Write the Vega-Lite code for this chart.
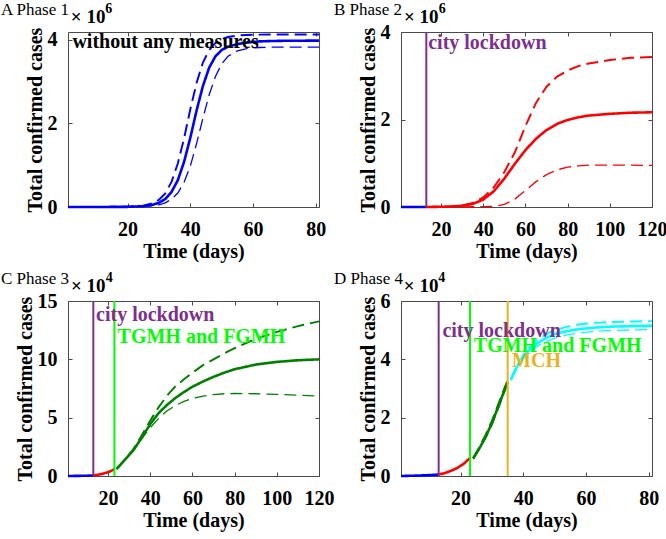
{
  "$schema": "https://vega.github.io/schema/vega-lite/v6.json",
  "padding": {"left": 0, "top": 0, "right": 0, "bottom": 5},
  "datasets": {
    "A_lines": [
      {"day":1,"cases":0,"series":"blue","band":"mean"},{"day":10,"cases":0.0002,"series":"blue","band":"mean"},{"day":20,"cases":0.004,"series":"blue","band":"mean"},{"day":25,"cases":0.02,"series":"blue","band":"mean"},{"day":28,"cases":0.054,"series":"blue","band":"mean"},{"day":30,"cases":0.1,"series":"blue","band":"mean"},{"day":32,"cases":0.19,"series":"blue","band":"mean"},{"day":34,"cases":0.36,"series":"blue","band":"mean"},{"day":36,"cases":0.64,"series":"blue","band":"mean"},{"day":38,"cases":1.08,"series":"blue","band":"mean"},{"day":40,"cases":1.66,"series":"blue","band":"mean"},{"day":42,"cases":2.31,"series":"blue","band":"mean"},{"day":44,"cases":2.89,"series":"blue","band":"mean"},{"day":46,"cases":3.33,"series":"blue","band":"mean"},{"day":48,"cases":3.6,"series":"blue","band":"mean"},{"day":50,"cases":3.75,"series":"blue","band":"mean"},{"day":52,"cases":3.83,"series":"blue","band":"mean"},{"day":55,"cases":3.89,"series":"blue","band":"mean"},{"day":58,"cases":3.93,"series":"blue","band":"mean"},{"day":62,"cases":3.955,"series":"blue","band":"mean"},{"day":66,"cases":3.965,"series":"blue","band":"mean"},{"day":70,"cases":3.97,"series":"blue","band":"mean"},{"day":75,"cases":3.972,"series":"blue","band":"mean"},{"day":81,"cases":3.975,"series":"blue","band":"mean"},
      {"day":1,"cases":0,"series":"blue","band":"upper"},{"day":10,"cases":0.0004,"series":"blue","band":"upper"},{"day":20,"cases":0.006,"series":"blue","band":"upper"},{"day":25,"cases":0.033,"series":"blue","band":"upper"},{"day":28,"cases":0.089,"series":"blue","band":"upper"},{"day":30,"cases":0.172,"series":"blue","band":"upper"},{"day":32,"cases":0.327,"series":"blue","band":"upper"},{"day":34,"cases":0.6,"series":"blue","band":"upper"},{"day":36,"cases":1.04,"series":"blue","band":"upper"},{"day":38,"cases":1.64,"series":"blue","band":"upper"},{"day":40,"cases":2.34,"series":"blue","band":"upper"},{"day":42,"cases":2.97,"series":"blue","band":"upper"},{"day":44,"cases":3.45,"series":"blue","band":"upper"},{"day":46,"cases":3.75,"series":"blue","band":"upper"},{"day":48,"cases":3.92,"series":"blue","band":"upper"},{"day":50,"cases":4.01,"series":"blue","band":"upper"},{"day":52,"cases":4.06,"series":"blue","band":"upper"},{"day":55,"cases":4.095,"series":"blue","band":"upper"},{"day":58,"cases":4.11,"series":"blue","band":"upper"},{"day":62,"cases":4.117,"series":"blue","band":"upper"},{"day":66,"cases":4.12,"series":"blue","band":"upper"},{"day":70,"cases":4.12,"series":"blue","band":"upper"},{"day":75,"cases":4.12,"series":"blue","band":"upper"},{"day":81,"cases":4.12,"series":"blue","band":"upper"},
      {"day":1,"cases":0,"series":"blue","band":"lower"},{"day":10,"cases":0.0001,"series":"blue","band":"lower"},{"day":20,"cases":0.002,"series":"blue","band":"lower"},{"day":25,"cases":0.011,"series":"blue","band":"lower"},{"day":28,"cases":0.028,"series":"blue","band":"lower"},{"day":30,"cases":0.053,"series":"blue","band":"lower"},{"day":32,"cases":0.1,"series":"blue","band":"lower"},{"day":34,"cases":0.185,"series":"blue","band":"lower"},{"day":36,"cases":0.335,"series":"blue","band":"lower"},{"day":38,"cases":0.59,"series":"blue","band":"lower"},{"day":40,"cases":0.98,"series":"blue","band":"lower"},{"day":42,"cases":1.52,"series":"blue","band":"lower"},{"day":44,"cases":2.12,"series":"blue","band":"lower"},{"day":46,"cases":2.68,"series":"blue","band":"lower"},{"day":48,"cases":3.12,"series":"blue","band":"lower"},{"day":50,"cases":3.42,"series":"blue","band":"lower"},{"day":52,"cases":3.6,"series":"blue","band":"lower"},{"day":55,"cases":3.73,"series":"blue","band":"lower"},{"day":58,"cases":3.785,"series":"blue","band":"lower"},{"day":62,"cases":3.81,"series":"blue","band":"lower"},{"day":66,"cases":3.818,"series":"blue","band":"lower"},{"day":70,"cases":3.82,"series":"blue","band":"lower"},{"day":75,"cases":3.82,"series":"blue","band":"lower"},{"day":81,"cases":3.82,"series":"blue","band":"lower"}
    ],
    "A_notes": [
      {"day":2.4,"cases":3.8,"label":"without any measures","series":"black"}
    ],
    "A_exp": [{"day":1.9,"cases":4.395,"label":"× 10"}],
    "A_pow": [{"day":12.9,"cases":4.63,"label":"6"}],
    "B_lines": [
      {"day":1,"cases":0,"series":"blue","band":"mean"},{"day":13,"cases":0,"series":"blue","band":"mean"},
      {"day":13,"cases":0,"series":"red","band":"mean"},{"day":20,"cases":0.005,"series":"red","band":"mean"},{"day":25,"cases":0.012,"series":"red","band":"mean"},{"day":30,"cases":0.03,"series":"red","band":"mean"},{"day":35,"cases":0.07,"series":"red","band":"mean"},{"day":40,"cases":0.17,"series":"red","band":"mean"},{"day":45,"cases":0.36,"series":"red","band":"mean"},{"day":50,"cases":0.65,"series":"red","band":"mean"},{"day":55,"cases":0.99,"series":"red","band":"mean"},{"day":60,"cases":1.3,"series":"red","band":"mean"},{"day":65,"cases":1.56,"series":"red","band":"mean"},{"day":70,"cases":1.76,"series":"red","band":"mean"},{"day":75,"cases":1.9,"series":"red","band":"mean"},{"day":80,"cases":1.99,"series":"red","band":"mean"},{"day":85,"cases":2.05,"series":"red","band":"mean"},{"day":90,"cases":2.09,"series":"red","band":"mean"},{"day":100,"cases":2.13,"series":"red","band":"mean"},{"day":110,"cases":2.155,"series":"red","band":"mean"},{"day":120,"cases":2.165,"series":"red","band":"mean"},
      {"day":13,"cases":0,"series":"red","band":"upper"},{"day":20,"cases":0.005,"series":"red","band":"upper"},{"day":25,"cases":0.014,"series":"red","band":"upper"},{"day":30,"cases":0.035,"series":"red","band":"upper"},{"day":35,"cases":0.09,"series":"red","band":"upper"},{"day":40,"cases":0.22,"series":"red","band":"upper"},{"day":45,"cases":0.45,"series":"red","band":"upper"},{"day":50,"cases":0.8,"series":"red","band":"upper"},{"day":55,"cases":1.25,"series":"red","band":"upper"},{"day":60,"cases":1.85,"series":"red","band":"upper"},{"day":65,"cases":2.38,"series":"red","band":"upper"},{"day":70,"cases":2.75,"series":"red","band":"upper"},{"day":75,"cases":2.98,"series":"red","band":"upper"},{"day":80,"cases":3.12,"series":"red","band":"upper"},{"day":85,"cases":3.22,"series":"red","band":"upper"},{"day":90,"cases":3.28,"series":"red","band":"upper"},{"day":100,"cases":3.36,"series":"red","band":"upper"},{"day":110,"cases":3.41,"series":"red","band":"upper"},{"day":120,"cases":3.43,"series":"red","band":"upper"},
      {"day":13,"cases":0,"series":"red","band":"lower"},{"day":20,"cases":0.001,"series":"red","band":"lower"},{"day":25,"cases":0.002,"series":"red","band":"lower"},{"day":30,"cases":0.004,"series":"red","band":"lower"},{"day":35,"cases":0.006,"series":"red","band":"lower"},{"day":40,"cases":0.008,"series":"red","band":"lower"},{"day":45,"cases":0.015,"series":"red","band":"lower"},{"day":50,"cases":0.06,"series":"red","band":"lower"},{"day":55,"cases":0.18,"series":"red","band":"lower"},{"day":60,"cases":0.38,"series":"red","band":"lower"},{"day":65,"cases":0.58,"series":"red","band":"lower"},{"day":70,"cases":0.74,"series":"red","band":"lower"},{"day":75,"cases":0.85,"series":"red","band":"lower"},{"day":80,"cases":0.91,"series":"red","band":"lower"},{"day":85,"cases":0.94,"series":"red","band":"lower"},{"day":90,"cases":0.955,"series":"red","band":"lower"},{"day":100,"cases":0.96,"series":"red","band":"lower"},{"day":110,"cases":0.955,"series":"red","band":"lower"},{"day":120,"cases":0.95,"series":"red","band":"lower"}
    ],
    "B_events": [{"day":13,"series":"lockdown"}],
    "B_notes": [{"day":13.9,"cases":3.61,"label":"city lockdown","series":"lockdown"}],
    "B_exp": [{"day":2.4,"cases":4.206,"label":"× 10"}],
    "B_pow": [{"day":18.9,"cases":4.43,"label":"6"}],
    "C_lines": [
      {"day":1,"cases":0,"series":"blue","band":"mean"},{"day":5,"cases":0.01,"series":"blue","band":"mean"},{"day":9,"cases":0.02,"series":"blue","band":"mean"},{"day":13,"cases":0.05,"series":"blue","band":"mean"},
      {"day":13,"cases":0.05,"series":"red","band":"mean"},{"day":15,"cases":0.1,"series":"red","band":"mean"},{"day":17,"cases":0.17,"series":"red","band":"mean"},{"day":19,"cases":0.27,"series":"red","band":"mean"},{"day":21,"cases":0.4,"series":"red","band":"mean"},{"day":23,"cases":0.58,"series":"red","band":"mean"},
      {"day":24,"cases":0.6,"series":"green","band":"mean"},{"day":28,"cases":1.4,"series":"green","band":"mean"},{"day":32,"cases":2.2,"series":"green","band":"mean"},{"day":36,"cases":3.3,"series":"green","band":"mean"},{"day":40,"cases":4.45,"series":"green","band":"mean"},{"day":44,"cases":5.4,"series":"green","band":"mean"},{"day":48,"cases":6.1,"series":"green","band":"mean"},{"day":52,"cases":6.7,"series":"green","band":"mean"},{"day":56,"cases":7.2,"series":"green","band":"mean"},{"day":60,"cases":7.65,"series":"green","band":"mean"},{"day":65,"cases":8.1,"series":"green","band":"mean"},{"day":70,"cases":8.5,"series":"green","band":"mean"},{"day":75,"cases":8.85,"series":"green","band":"mean"},{"day":80,"cases":9.15,"series":"green","band":"mean"},{"day":90,"cases":9.55,"series":"green","band":"mean"},{"day":100,"cases":9.78,"series":"green","band":"mean"},{"day":110,"cases":9.92,"series":"green","band":"mean"},{"day":120,"cases":10.0,"series":"green","band":"mean"},
      {"day":24,"cases":0.6,"series":"green","band":"upper"},{"day":28,"cases":1.4,"series":"green","band":"upper"},{"day":32,"cases":2.3,"series":"green","band":"upper"},{"day":36,"cases":3.5,"series":"green","band":"upper"},{"day":40,"cases":4.75,"series":"green","band":"upper"},{"day":44,"cases":5.9,"series":"green","band":"upper"},{"day":48,"cases":6.9,"series":"green","band":"upper"},{"day":52,"cases":7.7,"series":"green","band":"upper"},{"day":56,"cases":8.3,"series":"green","band":"upper"},{"day":60,"cases":8.85,"series":"green","band":"upper"},{"day":65,"cases":9.5,"series":"green","band":"upper"},{"day":70,"cases":10.0,"series":"green","band":"upper"},{"day":75,"cases":10.5,"series":"green","band":"upper"},{"day":80,"cases":10.95,"series":"green","band":"upper"},{"day":90,"cases":11.75,"series":"green","band":"upper"},{"day":100,"cases":12.35,"series":"green","band":"upper"},{"day":110,"cases":12.85,"series":"green","band":"upper"},{"day":120,"cases":13.25,"series":"green","band":"upper"},
      {"day":24,"cases":0.6,"series":"green","band":"lower"},{"day":28,"cases":1.35,"series":"green","band":"lower"},{"day":32,"cases":2.2,"series":"green","band":"lower"},{"day":36,"cases":3.2,"series":"green","band":"lower"},{"day":40,"cases":4.15,"series":"green","band":"lower"},{"day":44,"cases":4.95,"series":"green","band":"lower"},{"day":48,"cases":5.6,"series":"green","band":"lower"},{"day":52,"cases":6.05,"series":"green","band":"lower"},{"day":56,"cases":6.4,"series":"green","band":"lower"},{"day":60,"cases":6.65,"series":"green","band":"lower"},{"day":65,"cases":6.85,"series":"green","band":"lower"},{"day":70,"cases":6.98,"series":"green","band":"lower"},{"day":75,"cases":7.05,"series":"green","band":"lower"},{"day":80,"cases":7.07,"series":"green","band":"lower"},{"day":90,"cases":7.05,"series":"green","band":"lower"},{"day":100,"cases":7.0,"series":"green","band":"lower"},{"day":110,"cases":6.92,"series":"green","band":"lower"},{"day":120,"cases":6.85,"series":"green","band":"lower"}
    ],
    "C_events": [{"day":13,"series":"lockdown"},{"day":23,"series":"TGMH"}],
    "C_notes": [{"day":14.3,"cases":13.3,"label":"city lockdown","series":"lockdown"},{"day":24.5,"cases":11.4,"label":"TGMH and FGMH","series":"TGMH"}],
    "C_exp": [{"day":2.4,"cases":15.77,"label":"× 10"}],
    "C_pow": [{"day":18.9,"cases":16.63,"label":"4"}],
    "D_lines": [
      {"day":1,"cases":0,"series":"blue","band":"mean"},{"day":5,"cases":0.01,"series":"blue","band":"mean"},{"day":9,"cases":0.025,"series":"blue","band":"mean"},{"day":13,"cases":0.05,"series":"blue","band":"mean"},
      {"day":13,"cases":0.05,"series":"red","band":"mean"},{"day":15,"cases":0.1,"series":"red","band":"mean"},{"day":17,"cases":0.18,"series":"red","band":"mean"},{"day":19,"cases":0.28,"series":"red","band":"mean"},{"day":21,"cases":0.42,"series":"red","band":"mean"},{"day":23,"cases":0.62,"series":"red","band":"mean"},
      {"day":24,"cases":0.6,"series":"green","band":"mean"},{"day":26,"cases":0.95,"series":"green","band":"mean"},{"day":28,"cases":1.35,"series":"green","band":"mean"},{"day":30,"cases":1.82,"series":"green","band":"mean"},{"day":32,"cases":2.38,"series":"green","band":"mean"},{"day":34,"cases":2.95,"series":"green","band":"mean"},{"day":35,"cases":3.22,"series":"green","band":"mean"},
      {"day":24,"cases":0.62,"series":"green","band":"upper"},{"day":26,"cases":0.99,"series":"green","band":"upper"},{"day":28,"cases":1.42,"series":"green","band":"upper"},{"day":30,"cases":1.9,"series":"green","band":"upper"},{"day":32,"cases":2.46,"series":"green","band":"upper"},{"day":34,"cases":3.02,"series":"green","band":"upper"},{"day":35,"cases":3.28,"series":"green","band":"upper"},
      {"day":24,"cases":0.58,"series":"green","band":"lower"},{"day":26,"cases":0.92,"series":"green","band":"lower"},{"day":28,"cases":1.3,"series":"green","band":"lower"},{"day":30,"cases":1.75,"series":"green","band":"lower"},{"day":32,"cases":2.3,"series":"green","band":"lower"},{"day":34,"cases":2.88,"series":"green","band":"lower"},{"day":35,"cases":3.15,"series":"green","band":"lower"},
      {"day":36,"cases":3.3,"series":"cyan","band":"mean"},{"day":38,"cases":3.75,"series":"cyan","band":"mean"},{"day":40,"cases":4.08,"series":"cyan","band":"mean"},{"day":42,"cases":4.33,"series":"cyan","band":"mean"},{"day":44,"cases":4.52,"series":"cyan","band":"mean"},{"day":47,"cases":4.72,"series":"cyan","band":"mean"},{"day":50,"cases":4.86,"series":"cyan","band":"mean"},{"day":54,"cases":4.97,"series":"cyan","band":"mean"},{"day":58,"cases":5.04,"series":"cyan","band":"mean"},{"day":63,"cases":5.09,"series":"cyan","band":"mean"},{"day":68,"cases":5.12,"series":"cyan","band":"mean"},{"day":75,"cases":5.14,"series":"cyan","band":"mean"},{"day":81,"cases":5.15,"series":"cyan","band":"mean"},
      {"day":36,"cases":3.32,"series":"cyan","band":"upper"},{"day":38,"cases":3.8,"series":"cyan","band":"upper"},{"day":40,"cases":4.15,"series":"cyan","band":"upper"},{"day":42,"cases":4.42,"series":"cyan","band":"upper"},{"day":44,"cases":4.63,"series":"cyan","band":"upper"},{"day":47,"cases":4.85,"series":"cyan","band":"upper"},{"day":50,"cases":5.0,"series":"cyan","band":"upper"},{"day":54,"cases":5.12,"series":"cyan","band":"upper"},{"day":58,"cases":5.2,"series":"cyan","band":"upper"},{"day":63,"cases":5.25,"series":"cyan","band":"upper"},{"day":68,"cases":5.28,"series":"cyan","band":"upper"},{"day":75,"cases":5.3,"series":"cyan","band":"upper"},{"day":81,"cases":5.31,"series":"cyan","band":"upper"},
      {"day":36,"cases":3.28,"series":"cyan","band":"lower"},{"day":38,"cases":3.7,"series":"cyan","band":"lower"},{"day":40,"cases":4.0,"series":"cyan","band":"lower"},{"day":42,"cases":4.24,"series":"cyan","band":"lower"},{"day":44,"cases":4.42,"series":"cyan","band":"lower"},{"day":47,"cases":4.6,"series":"cyan","band":"lower"},{"day":50,"cases":4.73,"series":"cyan","band":"lower"},{"day":54,"cases":4.84,"series":"cyan","band":"lower"},{"day":58,"cases":4.91,"series":"cyan","band":"lower"},{"day":63,"cases":4.96,"series":"cyan","band":"lower"},{"day":68,"cases":4.99,"series":"cyan","band":"lower"},{"day":75,"cases":5.01,"series":"cyan","band":"lower"},{"day":81,"cases":5.02,"series":"cyan","band":"lower"}
    ],
    "D_events": [{"day":13,"series":"lockdown"},{"day":23,"series":"TGMH"},{"day":35,"series":"MCH"}],
    "D_notes": [{"day":14.2,"cases":4.77,"label":"city lockdown","series":"lockdown"},{"day":24.2,"cases":4.24,"label":"TGMH and FGMH","series":"TGMH"},{"day":36.4,"cases":3.74,"label":"MCH","series":"MCH"}],
    "D_exp": [{"day":1.9,"cases":6.31,"label":"× 10"}],
    "D_pow": [{"day":12.9,"cases":6.65,"label":"4"}]
  },
  "columns": 2,
  "bounds": "flush",
  "spacing": {"row": 94, "column": 82},
  "concat": [
    {
      "width": 251, "height": 175,
      "title": {"text": "A Phase 1"},
      "resolve": {"axis": {"x": "independent", "y": "independent"}},
      "layer": [
        {"data": {"name": "A_lines"}, "mark": {"type": "line"},
         "encoding": {
           "x": {"field": "day", "type": "quantitative", "scale": {"domain": [1, 81], "nice": false, "zero": false}, "axis": {"values": [20, 40, 60, 80], "title": "Time (days)", "labelPadding": 16}},
           "y": {"field": "cases", "type": "quantitative", "scale": {"domain": [0, 4.18], "nice": false}, "axis": {"values": [0, 2, 4], "title": "Total confirmed cases"}},
           "color": {"field": "series", "type": "nominal", "scale": {"domain": ["blue","red","green","cyan","lockdown","TGMH","MCH","black"], "range": ["#0000FF","#FF0000","#008000","#00FFFF","#7E2F8E","#00FF00","#EDB120","#000000"]}, "legend": null},
           "strokeDash": {"field": "band", "type": "nominal", "scale": {"domain": ["mean","upper","lower"], "range": [[1,0],[12,6],[12,6]]}, "legend": null},
           "strokeWidth": {"field": "band", "type": "nominal", "scale": {"domain": ["mean","upper","lower"], "range": [2.6,1.3,1.3]}, "legend": null}
         }},
        {"data": {"name": "A_notes"}, "mark": {"type": "text", "align": "left", "baseline": "alphabetic", "fontSize": 20, "fontWeight": "bold"},
         "encoding": {
           "x": {"field": "day", "type": "quantitative", "axis": null},
           "y": {"field": "cases", "type": "quantitative", "axis": null},
           "text": {"field": "label"},
           "color": {"field": "series", "type": "nominal", "legend": null}
         }},
        {"data": {"name": "A_pow"}, "mark": {"type": "text", "align": "left", "baseline": "alphabetic", "fontSize": 14, "fontWeight": "bold", "color": "#000"},
         "encoding": {
           "x": {"field": "day", "type": "quantitative", "axis": null},
           "y": {"field": "cases", "type": "quantitative", "axis": null},
           "text": {"field": "label"}
         }},
        {"data": {"name": "A_exp"}, "mark": {"type": "text", "align": "left", "baseline": "alphabetic", "fontSize": 19, "fontWeight": "bold", "color": "#000"},
         "encoding": {
           "x": {"field": "day", "type": "quantitative", "axis": {"orient": "top", "values": [20, 40, 60, 80], "labels": false, "title": null}},
           "y": {"field": "cases", "type": "quantitative", "axis": {"orient": "right", "values": [0, 2, 4], "labels": false, "title": null}},
           "text": {"field": "label"}
         }}
      ]
    },
    {
      "width": 251, "height": 175,
      "title": {"text": "B Phase 2"},
      "resolve": {"axis": {"x": "independent", "y": "independent"}},
      "layer": [
        {"data": {"name": "B_lines"}, "mark": {"type": "line"},
         "encoding": {
           "x": {"field": "day", "type": "quantitative", "scale": {"domain": [1, 120], "nice": false, "zero": false}, "axis": {"values": [20, 40, 60, 80, 100, 120], "title": "Time (days)", "labelPadding": 16}},
           "y": {"field": "cases", "type": "quantitative", "scale": {"domain": [0, 4], "nice": false}, "axis": {"values": [0, 2, 4], "title": "Total confirmed cases"}},
           "color": {"field": "series", "type": "nominal", "scale": {"domain": ["blue","red","green","cyan","lockdown","TGMH","MCH","black"], "range": ["#0000FF","#FF0000","#008000","#00FFFF","#7E2F8E","#00FF00","#EDB120","#000000"]}, "legend": null},
           "strokeDash": {"field": "band", "type": "nominal", "scale": {"domain": ["mean","upper","lower"], "range": [[1,0],[12,6],[12,6]]}, "legend": null},
           "strokeWidth": {"field": "band", "type": "nominal", "scale": {"domain": ["mean","upper","lower"], "range": [2.6,1.3,1.3]}, "legend": null}
         }},
        {"data": {"name": "B_events"}, "mark": {"type": "rule", "strokeWidth": 2},
         "encoding": {
           "x": {"field": "day", "type": "quantitative", "axis": null},
           "color": {"field": "series", "type": "nominal", "legend": null}
         }},
        {"data": {"name": "B_notes"}, "mark": {"type": "text", "align": "left", "baseline": "alphabetic", "fontSize": 20, "fontWeight": "bold"},
         "encoding": {
           "x": {"field": "day", "type": "quantitative", "axis": null},
           "y": {"field": "cases", "type": "quantitative", "axis": null},
           "text": {"field": "label"},
           "color": {"field": "series", "type": "nominal", "legend": null}
         }},
        {"data": {"name": "B_pow"}, "mark": {"type": "text", "align": "left", "baseline": "alphabetic", "fontSize": 14, "fontWeight": "bold", "color": "#000"},
         "encoding": {
           "x": {"field": "day", "type": "quantitative", "axis": null},
           "y": {"field": "cases", "type": "quantitative", "axis": null},
           "text": {"field": "label"}
         }},
        {"data": {"name": "B_exp"}, "mark": {"type": "text", "align": "left", "baseline": "alphabetic", "fontSize": 19, "fontWeight": "bold", "color": "#000"},
         "encoding": {
           "x": {"field": "day", "type": "quantitative", "axis": {"orient": "top", "values": [20, 40, 60, 80, 100, 120], "labels": false, "title": null}},
           "y": {"field": "cases", "type": "quantitative", "axis": {"orient": "right", "values": [0, 2, 4], "labels": false, "title": null}},
           "text": {"field": "label"}
         }}
      ]
    },
    {
      "width": 251, "height": 175,
      "title": {"text": "C Phase 3"},
      "resolve": {"axis": {"x": "independent", "y": "independent"}},
      "layer": [
        {"data": {"name": "C_lines"}, "mark": {"type": "line"},
         "encoding": {
           "x": {"field": "day", "type": "quantitative", "scale": {"domain": [1, 120], "nice": false, "zero": false}, "axis": {"values": [20, 40, 60, 80, 100, 120], "title": "Time (days)", "labelPadding": 16}},
           "y": {"field": "cases", "type": "quantitative", "scale": {"domain": [0, 15], "nice": false}, "axis": {"values": [0, 5, 10, 15], "title": "Total confirmed cases"}},
           "color": {"field": "series", "type": "nominal", "scale": {"domain": ["blue","red","green","cyan","lockdown","TGMH","MCH","black"], "range": ["#0000FF","#FF0000","#008000","#00FFFF","#7E2F8E","#00FF00","#EDB120","#000000"]}, "legend": null},
           "strokeDash": {"field": "band", "type": "nominal", "scale": {"domain": ["mean","upper","lower"], "range": [[1,0],[12,6],[12,6]]}, "legend": null},
           "strokeWidth": {"field": "band", "type": "nominal", "scale": {"domain": ["mean","upper","lower"], "range": [2.6,1.3,1.3]}, "legend": null}
         }},
        {"data": {"name": "C_events"}, "mark": {"type": "rule", "strokeWidth": 2},
         "encoding": {
           "x": {"field": "day", "type": "quantitative", "axis": null},
           "color": {"field": "series", "type": "nominal", "legend": null}
         }},
        {"data": {"name": "C_notes"}, "mark": {"type": "text", "align": "left", "baseline": "alphabetic", "fontSize": 20, "fontWeight": "bold"},
         "encoding": {
           "x": {"field": "day", "type": "quantitative", "axis": null},
           "y": {"field": "cases", "type": "quantitative", "axis": null},
           "text": {"field": "label"},
           "color": {"field": "series", "type": "nominal", "legend": null}
         }},
        {"data": {"name": "C_pow"}, "mark": {"type": "text", "align": "left", "baseline": "alphabetic", "fontSize": 14, "fontWeight": "bold", "color": "#000"},
         "encoding": {
           "x": {"field": "day", "type": "quantitative", "axis": null},
           "y": {"field": "cases", "type": "quantitative", "axis": null},
           "text": {"field": "label"}
         }},
        {"data": {"name": "C_exp"}, "mark": {"type": "text", "align": "left", "baseline": "alphabetic", "fontSize": 19, "fontWeight": "bold", "color": "#000"},
         "encoding": {
           "x": {"field": "day", "type": "quantitative", "axis": {"orient": "top", "values": [20, 40, 60, 80, 100, 120], "labels": false, "title": null}},
           "y": {"field": "cases", "type": "quantitative", "axis": {"orient": "right", "values": [0, 5, 10, 15], "labels": false, "title": null}},
           "text": {"field": "label"}
         }}
      ]
    },
    {
      "width": 251, "height": 175,
      "title": {"text": "D Phase 4"},
      "resolve": {"axis": {"x": "independent", "y": "independent"}},
      "layer": [
        {"data": {"name": "D_lines"}, "mark": {"type": "line"},
         "encoding": {
           "x": {"field": "day", "type": "quantitative", "scale": {"domain": [1, 81], "nice": false, "zero": false}, "axis": {"values": [20, 40, 60, 80], "title": "Time (days)", "labelPadding": 16}},
           "y": {"field": "cases", "type": "quantitative", "scale": {"domain": [0, 6], "nice": false}, "axis": {"values": [0, 2, 4, 6], "title": "Total confirmed cases"}},
           "color": {"field": "series", "type": "nominal", "scale": {"domain": ["blue","red","green","cyan","lockdown","TGMH","MCH","black"], "range": ["#0000FF","#FF0000","#008000","#00FFFF","#7E2F8E","#00FF00","#EDB120","#000000"]}, "legend": null},
           "strokeDash": {"field": "band", "type": "nominal", "scale": {"domain": ["mean","upper","lower"], "range": [[1,0],[12,6],[12,6]]}, "legend": null},
           "strokeWidth": {"field": "band", "type": "nominal", "scale": {"domain": ["mean","upper","lower"], "range": [2.6,1.3,1.3]}, "legend": null}
         }},
        {"data": {"name": "D_events"}, "mark": {"type": "rule", "strokeWidth": 2},
         "encoding": {
           "x": {"field": "day", "type": "quantitative", "axis": null},
           "color": {"field": "series", "type": "nominal", "legend": null}
         }},
        {"data": {"name": "D_notes"}, "mark": {"type": "text", "align": "left", "baseline": "alphabetic", "fontSize": 20, "fontWeight": "bold"},
         "encoding": {
           "x": {"field": "day", "type": "quantitative", "axis": null},
           "y": {"field": "cases", "type": "quantitative", "axis": null},
           "text": {"field": "label"},
           "color": {"field": "series", "type": "nominal", "legend": null}
         }},
        {"data": {"name": "D_pow"}, "mark": {"type": "text", "align": "left", "baseline": "alphabetic", "fontSize": 14, "fontWeight": "bold", "color": "#000"},
         "encoding": {
           "x": {"field": "day", "type": "quantitative", "axis": null},
           "y": {"field": "cases", "type": "quantitative", "axis": null},
           "text": {"field": "label"}
         }},
        {"data": {"name": "D_exp"}, "mark": {"type": "text", "align": "left", "baseline": "alphabetic", "fontSize": 19, "fontWeight": "bold", "color": "#000"},
         "encoding": {
           "x": {"field": "day", "type": "quantitative", "axis": {"orient": "top", "values": [20, 40, 60, 80], "labels": false, "title": null}},
           "y": {"field": "cases", "type": "quantitative", "axis": {"orient": "right", "values": [0, 2, 4, 6], "labels": false, "title": null}},
           "text": {"field": "label"}
         }}
      ]
    }
  ],
  "config": {
    "font": "Liberation Serif",
    "background": "white",
    "view": {"stroke": "#4a4a4a", "strokeWidth": 1},
    "axis": {
      "grid": false, "domain": false,
      "tickColor": "#4a4a4a", "tickSize": -4, "tickWidth": 1,
      "labelFont": "Liberation Serif", "labelFontSize": 20, "labelFontWeight": "bold", "labelColor": "#000000", "labelPadding": 15,
      "labelOverlap": false, "labelFlush": false, "labelBound": false,
      "titleFont": "Liberation Serif", "titleFontSize": 20, "titleFontWeight": "bold", "titleColor": "#000000", "titlePadding": 2
    },
    "title": {"anchor": "start", "frame": "group", "dx": -67, "fontSize": 17, "fontWeight": "normal", "font": "Liberation Serif", "color": "#000000", "offset": -17}
  }
}
